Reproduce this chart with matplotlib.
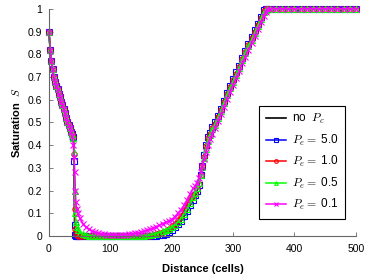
import matplotlib
matplotlib.use('Agg')
import matplotlib.pyplot as plt

plt.rcParams['font.family'] = ['Liberation Sans', 'DejaVu Sans']
plt.rcParams['mathtext.fontset'] = 'cm'

cells = [0, 2, 4, 6, 8, 10, 12, 14, 16, 18, 20, 22, 24, 26, 28, 30, 32, 34, 36, 38, 40,
         41, 42, 43, 44, 45, 47, 50,
         55, 60, 65, 70, 75, 80, 85, 90, 95, 100, 105, 110, 115, 120, 125, 130, 135, 140,
         145, 150, 155, 160, 165, 170, 175, 180, 185, 190, 195, 200, 205, 210, 215, 220,
         225, 230, 235,
         238, 241, 244, 247, 250, 253, 256, 259, 262, 266,
         270, 275, 280, 285, 290, 295, 300, 305, 310, 315, 320, 325, 330, 335, 340, 345, 350,
         353, 356, 360, 370, 380, 390, 400, 410, 420, 430, 440, 450, 460, 470, 480, 490, 500]

left_front = [0.90, 0.82, 0.77, 0.735, 0.70, 0.68, 0.66, 0.645, 0.625, 0.61, 0.59, 0.575,
              0.56, 0.54, 0.52, 0.50, 0.49, 0.475, 0.46, 0.45, 0.435]
plateau = [1.0, 1.0, 1.0, 1.0, 1.0, 1.0, 1.0, 1.0, 1.0, 1.0, 1.0, 1.0, 1.0, 1.0, 1.0]

S_noPc = (left_front +
          [0.30, 0.02, 0, 0, 0, 0, 0] +
          [0, 0, 0, 0, 0, 0, 0, 0, 0, 0, 0, 0, 0, 0, 0, 0, 0, 0, 0, 0, 0, 0, 0, 0, 0,
           0.002, 0.005, 0.01, 0.017, 0.026, 0.037, 0.05, 0.065, 0.085, 0.11, 0.135, 0.16] +
          [0.18, 0.20, 0.225, 0.27, 0.31, 0.355, 0.40, 0.435, 0.455, 0.48] +
          [0.50, 0.53, 0.56, 0.595, 0.63, 0.66, 0.69, 0.72, 0.75, 0.785, 0.815, 0.845,
           0.875, 0.905, 0.935, 0.965, 0.995] +
          [1.0, 1.0] + plateau)

S_pe50 = (left_front +
          [0.33, 0.05, 0.005, 0, 0, 0, 0] +
          [0, 0, 0, 0, 0, 0, 0, 0, 0, 0, 0, 0, 0, 0, 0, 0, 0, 0, 0, 0, 0, 0, 0, 0, 0,
           0.003, 0.006, 0.011, 0.018, 0.027, 0.038, 0.051, 0.066, 0.086, 0.11, 0.135, 0.16] +
          [0.18, 0.20, 0.225, 0.27, 0.31, 0.355, 0.40, 0.435, 0.455, 0.48] +
          [0.50, 0.53, 0.56, 0.595, 0.63, 0.66, 0.69, 0.72, 0.75, 0.785, 0.815, 0.845,
           0.875, 0.905, 0.935, 0.965, 0.995] +
          [1.0, 1.0] + plateau)

S_pe10 = (left_front +
          [0.36, 0.12, 0.03, 0.01, 0.004, 0, 0] +
          [0, 0, 0, 0, 0, 0, 0, 0, 0, 0, 0, 0, 0, 0, 0, 0, 0, 0, 0, 0, 0, 0, 0.002, 0.005,
           0.008, 0.012, 0.017, 0.023, 0.031, 0.042, 0.055, 0.07, 0.09, 0.115, 0.14, 0.165,
           0.175] +
          [0.185, 0.205, 0.23, 0.27, 0.31, 0.35, 0.395, 0.43, 0.45, 0.475] +
          [0.495, 0.525, 0.555, 0.59, 0.625, 0.655, 0.685, 0.715, 0.745, 0.78, 0.81, 0.84,
           0.87, 0.90, 0.93, 0.96, 0.99] +
          [0.998, 1.0] + plateau)

S_pe05 = (left_front[:-1] + [0.43] +
          [0.37, 0.20, 0.10, 0.06, 0.04, 0.025, 0.015] +
          [0.008, 0.004, 0.002, 0.001, 0, 0, 0, 0, 0, 0, 0, 0, 0, 0, 0, 0, 0, 0, 0, 0,
           0.001, 0.003, 0.005, 0.008, 0.011, 0.015, 0.02, 0.026, 0.033, 0.04, 0.05, 0.062,
           0.077, 0.095, 0.12, 0.145, 0.17] +
          [0.19, 0.21, 0.235, 0.27, 0.305, 0.345, 0.385, 0.42, 0.445, 0.47] +
          [0.49, 0.52, 0.55, 0.585, 0.62, 0.65, 0.68, 0.71, 0.74, 0.775, 0.805, 0.835,
           0.865, 0.895, 0.925, 0.955, 0.985] +
          [0.995, 1.0] + plateau)

S_pe01 = (left_front[:-2] + [0.44, 0.40] +
          [0.35, 0.28, 0.20, 0.15, 0.12, 0.10, 0.08] +
          [0.055, 0.04, 0.03, 0.022, 0.017, 0.013, 0.01, 0.008, 0.006, 0.005, 0.004, 0.004,
           0.004, 0.005, 0.006, 0.008, 0.01, 0.012, 0.014, 0.017, 0.021, 0.025, 0.03, 0.035,
           0.041, 0.047, 0.054, 0.061, 0.066, 0.072, 0.085, 0.10, 0.115, 0.135, 0.16,
           0.185, 0.21] +
          [0.22, 0.235, 0.255, 0.28, 0.31, 0.34, 0.37, 0.40, 0.425, 0.45] +
          [0.475, 0.505, 0.535, 0.57, 0.605, 0.635, 0.665, 0.695, 0.725, 0.76, 0.79, 0.82,
           0.85, 0.88, 0.91, 0.94, 0.97] +
          [0.985, 0.998] + plateau)

series = [
    ('no  $P_c$', S_noPc, 'black', None),
    ('$P_e =$ 5.0', S_pe50, '#0000ff', 's'),
    ('$P_e =$ 1.0', S_pe10, '#ff0000', 'o'),
    ('$P_e =$ 0.5', S_pe05, '#00ff00', '^'),
    ('$P_e =$ 0.1', S_pe01, '#ff00ff', 'x'),
]

fig = plt.figure(figsize=(3.68, 2.77), dpi=100)
ax = fig.add_axes([0.133, 0.148, 0.834, 0.82])

for label, s, col, mk in series:
    if mk is None:
        ax.plot(cells, s, color=col, lw=1.2, label=label, clip_on=False)
    else:
        ax.plot(cells, s, color=col, lw=1.1, marker=mk, ms=3.8, mfc='none',
                mew=0.8, label=label, clip_on=False)

ax.set_xlim(0, 500)
ax.set_ylim(0, 1)
ax.set_xticks([0, 100, 200, 300, 400, 500])
ax.set_xticklabels(['0', '100', '200', '300', '400', '500'])
ax.set_yticks([0, 0.1, 0.2, 0.3, 0.4, 0.5, 0.6, 0.7, 0.8, 0.9, 1])
ax.set_yticklabels(['0', '0.1', '0.2', '0.3', '0.4', '0.5', '0.6', '0.7', '0.8', '0.9', '1'])

for sp in ['top', 'right']:
    ax.spines[sp].set_visible(False)
for sp in ['left', 'bottom']:
    ax.spines[sp].set_color('#666666')
    ax.spines[sp].set_linewidth(0.8)
ax.tick_params(direction='in', length=3, width=0.6, color='#666666', labelsize=7.5)
ax.tick_params(axis='x', pad=6)
ax.tick_params(axis='y', pad=5)

ax.set_xlabel('Distance (cells)', fontsize=8, fontweight='bold', labelpad=7)
ax.set_ylabel('Saturation  $S$', fontsize=8, fontweight='bold', labelpad=4)

leg = ax.legend(loc='lower right', bbox_to_anchor=(0.965, 0.075), fontsize=8.5,
                handlelength=1.7, labelspacing=0.55, borderpad=0.55, fancybox=False,
                framealpha=1, edgecolor='black', handletextpad=0.5, borderaxespad=0,
                markerscale=0.7)
leg.get_frame().set_linewidth(0.8)

fig.savefig('out.png', dpi=100)
